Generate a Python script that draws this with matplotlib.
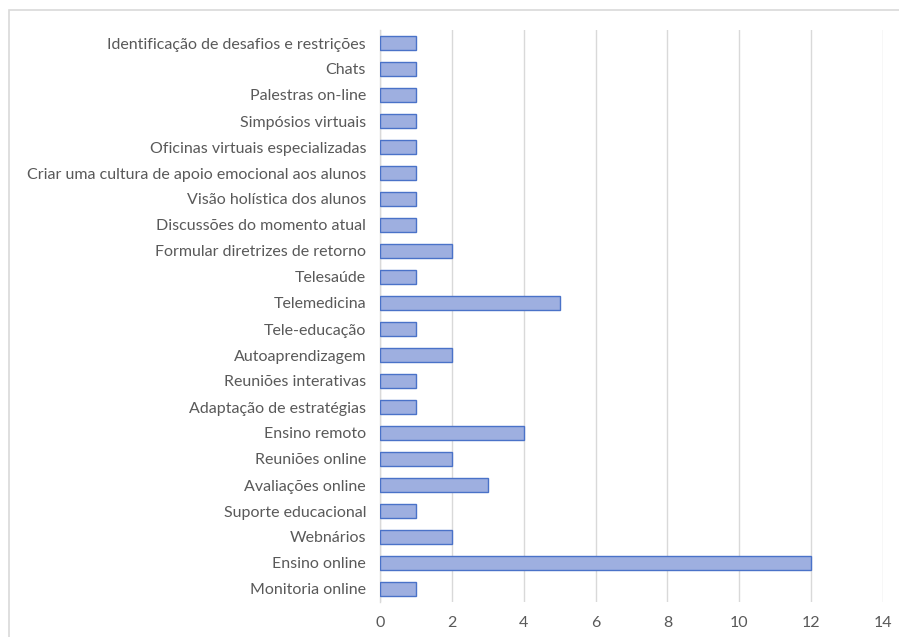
import matplotlib.pyplot as plt
from matplotlib.patches import Rectangle

# categories listed bottom -> top
categories = [
    'Monitoria online',
    'Ensino online',
    'Webnários',
    'Suporte educacional',
    'Avaliações online',
    'Reuniões online',
    'Ensino remoto',
    'Adaptação de estratégias',
    'Reuniões interativas',
    'Autoaprendizagem',
    'Tele-educação',
    'Telemedicina',
    'Telesaúde',
    'Formular diretrizes de retorno',
    'Discussões do momento atual',
    'Visão holística dos alunos',
    'Criar uma cultura de apoio emocional aos alunos',
    'Oficinas virtuais especializadas',
    'Simpósios virtuais',
    'Palestras on-line',
    'Chats',
    'Identificação de desafios e restrições',
]
counts = [1, 12, 2, 1, 3, 2, 4, 1, 1, 2, 1, 5, 1, 2, 1, 1, 1, 1, 1, 1, 1, 1]
xticks = [0, 2, 4, 6, 8, 10, 12, 14]

plt.rcParams['font.family'] = ['Lato', 'DejaVu Sans']

fig = plt.figure(figsize=(8.99, 6.37), dpi=100)
fig.patches.append(Rectangle((9 / 899, -0.1), 1.2, 1 - 10 / 637 + 0.1,
                             transform=fig.transFigure, fill=False,
                             edgecolor='#d9d9d9', linewidth=1.2))

ax = fig.add_axes([380 / 899, 1 - 602 / 637, 503 / 899, 572 / 637])
y = range(len(categories))
ax.barh(y, counts, height=0.54, color='#9eafe0', edgecolor='#4a72c8', linewidth=1.0, zorder=3)

ax.set_xlim(0, 14)
ax.set_ylim(-0.5, len(categories) - 0.5)
ax.set_xticks(xticks)
ax.set_yticks(list(y))
ax.set_yticklabels(categories)
ax.grid(axis='x', color='#d9d9d9', linewidth=1.0, zorder=0)
ax.set_axisbelow(True)

for s in ['top', 'right', 'bottom']:
    ax.spines[s].set_visible(False)
ax.spines['left'].set_color('#d9d9d9')
ax.spines['left'].set_linewidth(1.0)

ax.tick_params(axis='both', length=0, labelsize=11.5, labelcolor='#595959')
ax.tick_params(axis='y', pad=10)
ax.tick_params(axis='x', pad=10)

plt.savefig('out.png', dpi=100)
plt.close()
